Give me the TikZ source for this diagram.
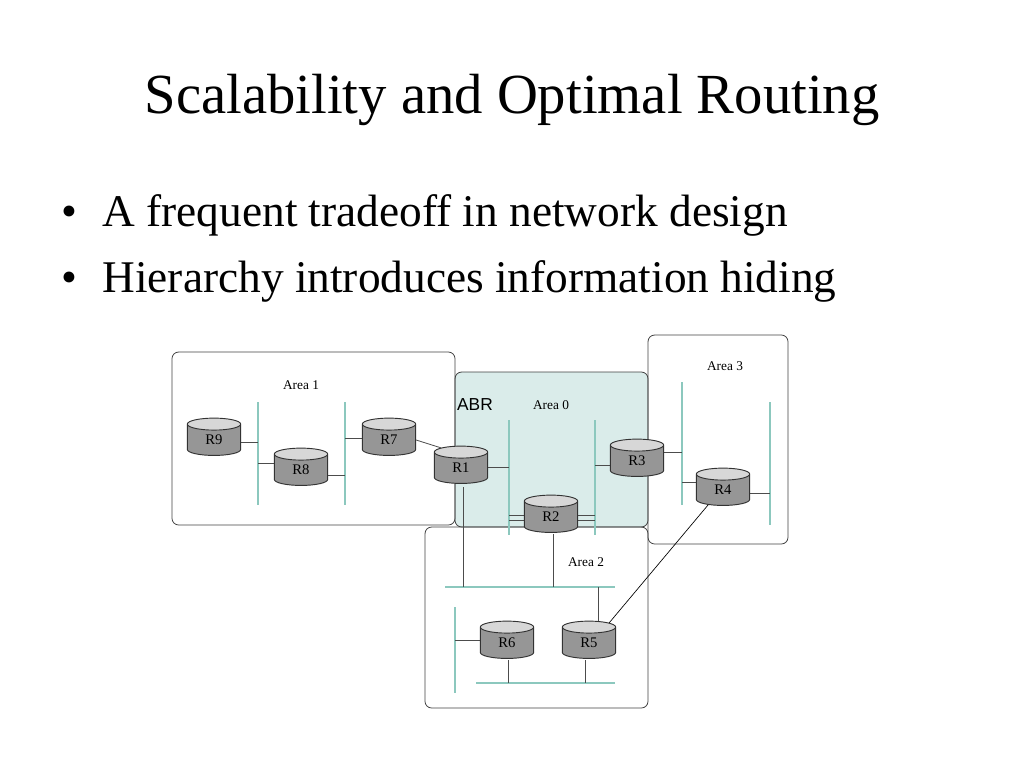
\documentclass[tikz,border=0pt]{standalone}
\usepackage{fontspec}
\setmainfont{Liberation Serif}
\newfontfamily\abrfont{Liberation Sans}
\usetikzlibrary{shapes.geometric}
\definecolor{busteal}{RGB}{140,200,190}
\definecolor{areafill}{RGB}{218,236,234}
\definecolor{rtgray}{RGB}{150,150,150}
\definecolor{rttop}{RGB}{215,215,215}
\tikzset{
  area/.style={draw=black!75, rounded corners=5pt, line width=0.6pt},
  router/.style={cylinder, shape border rotate=90, aspect=0.7, draw=black!80, line width=0.7pt,
    cylinder uses custom fill, cylinder body fill=rtgray, cylinder end fill=rttop,
    minimum width=40pt, minimum height=28pt, inner sep=0pt, font=\fontsize{11}{12}\selectfont},
  bus/.style={draw=busteal, line width=1pt},
  link/.style={draw=black!70, line width=0.6pt},
  alabel/.style={font=\fontsize{10}{11}\selectfont}
}
\begin{document}
\begin{tikzpicture}[x=0.75pt,y=0.75pt,yscale=-1,xscale=1]
\useasboundingbox (0,0) rectangle (1024,768);

% title and bullets
\node (title) at (512,100) {\fontsize{42.5}{48}\selectfont Scalability and Optimal Routing};
\node[anchor=west] (b1) at (57,215) {\fontsize{34}{40}\selectfont \textbullet\hspace{0.55em}A frequent tradeoff in network design};
\node[anchor=west] (b2) at (57,281) {\fontsize{34}{40}\selectfont \textbullet\hspace{0.55em}Hierarchy introduces information hiding};

% areas
\draw[area, fill=areafill] (455,372) rectangle (648,527);
\draw[area] (172,352) rectangle (455,525);
\draw[area] (648,335) rectangle (788,544);
\draw[area] (425,527) rectangle (648,708);

\node[alabel] (a1) at (301,385) {Area 1};
\node[alabel] (a0) at (551,405) {Area 0};
\node[alabel] (a3) at (725,366) {Area 3};
\node[alabel] (a2) at (586,562) {Area 2};
\node[font=\abrfont\fontsize{13}{15}\selectfont] (abr) at (475,405) {ABR};

% buses
\draw[bus] (258,402) -- (258,505);
\draw[bus] (345,402) -- (345,505);
\draw[bus] (509,420) -- (509,535);
\draw[bus] (595,420) -- (595,535);
\draw[bus] (682,382) -- (682,505);
\draw[bus] (770,402) -- (770,525);
\draw[bus] (445,587) -- (615,587);
\draw[bus] (455,607) -- (455,693);
\draw[bus] (476,683) -- (615,683);

% links
\draw[link] (240,442) -- (258,442);
\draw[link] (258,463) -- (276,463);
\draw[link] (326,475) -- (345,475);
\draw[link] (345,438) -- (364,438);
\draw[link] (486,467) -- (509,467);
\draw[link] (463,487) -- (463,587);
\draw[link] (509,515) -- (526,515);
\draw[link] (509,520) -- (526,520);
\draw[link] (576,515) -- (595,515);
\draw[link] (576,520) -- (595,520);
\draw[link] (553,534) -- (553,587);
\draw[link] (595,465) -- (612,465);
\draw[link] (662,452) -- (682,452);
\draw[link] (682,482) -- (698,482);
\draw[link] (748,493) -- (770,493);
\draw[link] (598,587) -- (598,628);
\draw[link] (455,640) -- (482,640);
\draw[link] (508,660) -- (508,683);
\draw[link] (585,660) -- (585,683);

% routers
\node[router] (r9) at (214,440) {R9};
\node[router] (r8) at (301,470) {R8};
\node[router] (r7) at (389,440) {R7};
\node[router] (r1) at (461,468) {R1};
\node[router] (r2) at (551,517) {R2};
\node[router] (r3) at (637,461) {R3};
\node[router] (r4) at (723,490) {R4};
\node[router] (r6) at (507,643) {R6};
\node[router] (r5) at (589,643) {R5};

\draw[link] (r7.east) -- (r1.north west);
\draw[draw=black, line width=0.5pt] (r4.south west) -- (r5.north east);
\end{tikzpicture}
\end{document}
